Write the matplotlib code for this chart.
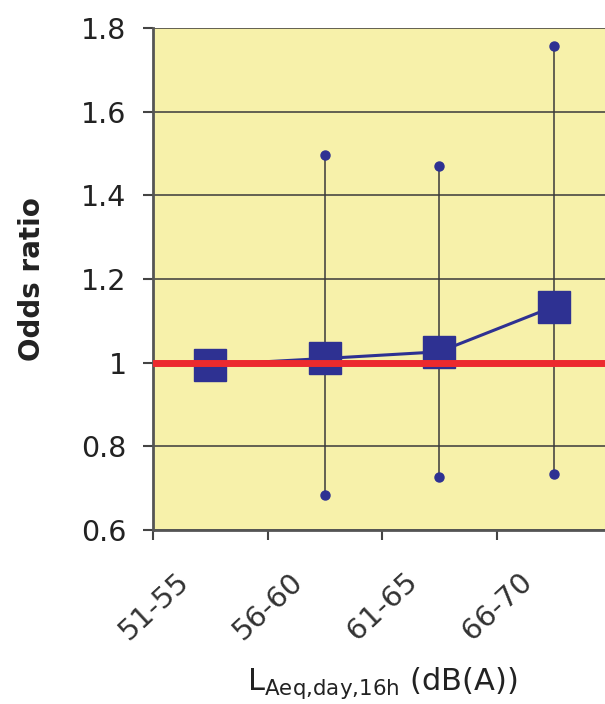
import matplotlib.pyplot as plt
from matplotlib.transforms import ScaledTranslation
import numpy as np

# Odds ratios by daytime noise level band
categories = ["51-55", "56-60", "61-65", "66-70"]
odds_ratio = [0.995, 1.010, 1.026, 1.134]
ci_low = [np.nan, 0.684, 0.727, 0.735]
ci_high = [np.nan, 1.496, 1.470, 1.757]

plt.rcParams['font.family'] = ['DejaVu Sans']

navy = '#2E3192'
fig = plt.figure(figsize=(6.05, 7.04), dpi=100)
ax = fig.add_axes([153 / 605, 174 / 704, 458 / 605, 502 / 704])
ax.set_facecolor('#F7F1AA')

x = np.arange(len(categories)) + 0.5

# horizontal gridlines
ax.set_ylim(0.6, 1.8)
ax.set_yticks(np.arange(0.6, 1.81, 0.2))
ax.set_yticklabels(['0.6', '0.8', '1', '1.2', '1.4', '1.6', '1.8'])
ax.grid(axis='y', color='#3a3a3a', linewidth=1.1, zorder=1)
ax.set_axisbelow(True)

# confidence intervals
for xi, lo, hi in zip(x, ci_low, ci_high):
    if np.isnan(lo):
        continue
    ax.vlines(xi, lo, hi, color='#3a3a3a', linewidth=1.1, zorder=2)
    ax.plot([xi, xi], [lo, hi], 'o', color=navy, markersize=6.5, zorder=3)

ax.plot(x, odds_ratio, '-s', color=navy, linewidth=2.2, markersize=22.5, zorder=4)
ax.axhline(1.0, color='#EC2A2E', linewidth=5, zorder=5)

ax.set_xlim(0, 4)
ax.set_xticks(x)
ax.set_xticklabels(categories, rotation=43, ha='right', va='top', rotation_mode='anchor')
ax.set_xticks(np.arange(0, 5), minor=True)
ax.tick_params(axis='x', which='major', length=0, pad=27, labelsize=21, labelcolor='#333333')
ax.tick_params(axis='x', which='minor', length=7, width=1.5, color='#444444')
ax.tick_params(axis='y', length=7, width=1.5, color='#444444', pad=12, labelsize=20.5, labelcolor='#222222')
for lab in ax.get_xticklabels():
    lab.set_transform(lab.get_transform() + ScaledTranslation(-0.35, 0, fig.dpi_scale_trans))

for side in ['top', 'right']:
    ax.spines[side].set_visible(False)
for side in ['left', 'bottom']:
    ax.spines[side].set_color('#555555')
    ax.spines[side].set_linewidth(2)

ax.set_ylabel('Odds ratio', fontsize=20, fontweight='bold', color='#222222')
ax.yaxis.set_label_coords(-0.234, 0.5)
ax.set_xlabel(r'L$_{\mathregular{Aeq{,}day{,}16h}}$ (dB(A))', fontsize=22, color='#222222')
ax.xaxis.set_label_coords(0.5, -0.27)

fig.savefig('out.png', dpi=100)
